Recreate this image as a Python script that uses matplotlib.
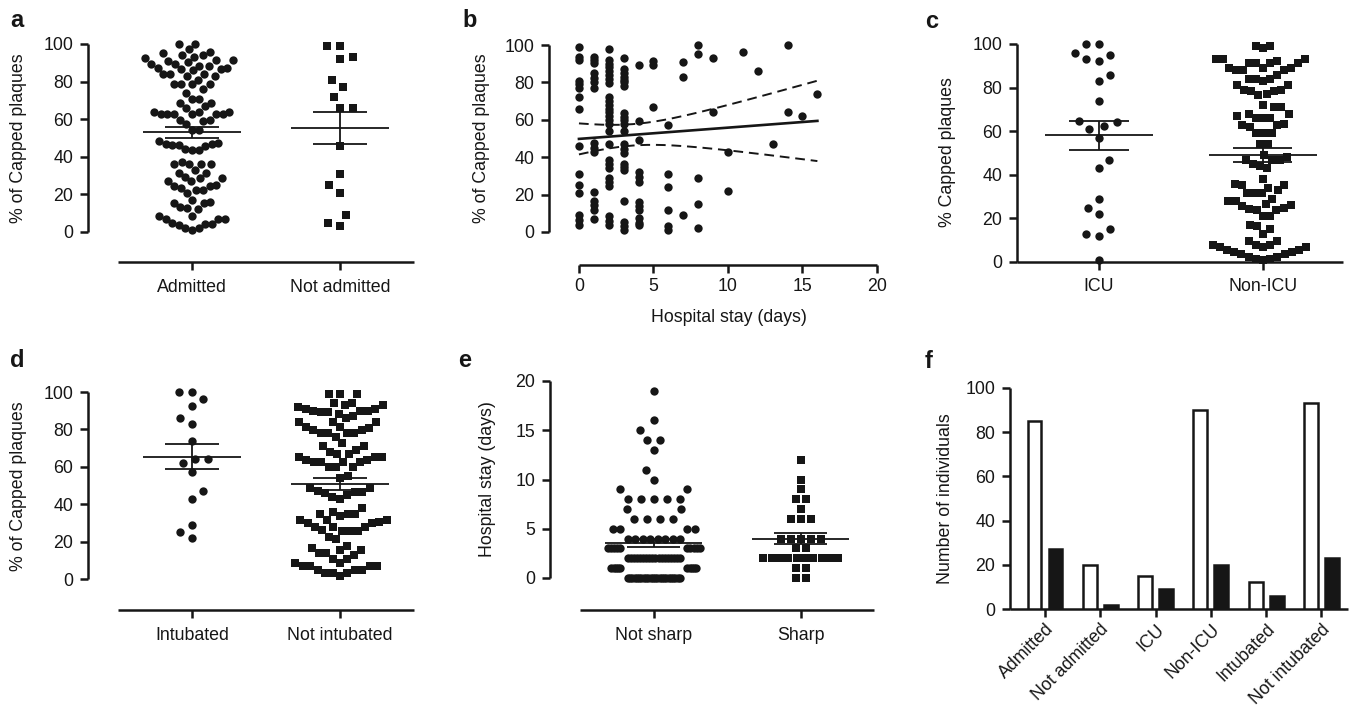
import numpy as np
import matplotlib
matplotlib.use("Agg")
import matplotlib.pyplot as plt

plt.rcParams['font.family'] = ['Liberation Sans', 'DejaVu Sans']

INK = '#161616'
W, H, DPI = 1353, 708, 100
FS = 12.8
LW = 1.8

# ---------------- data ----------------
# panel a: % capped plaques
a_admitted = [100, 100, 97.5, 96, 95, 94, 94,
              92.5, 91.7, 91, 89.5, 88.5, 87.5, 86.5, 86, 86.5, 87.5, 88.5, 89.5, 90.5, 91.5, 93,
              84, 84, 84, 83, 83, 81, 78.5, 78.5, 78.5, 78.5, 76, 74,
              71, 71, 68.5, 68.5,
              67, 64, 63, 63, 63, 63, 63, 63, 64, 64, 66,
              59.5, 59.5, 59, 57.5, 54, 54,
              48.5, 47, 47, 45.5, 43.5, 43.5, 44, 46.5, 46.5, 47.5,
              36, 36, 36, 36, 33, 37.5,
              31.5, 28.5, 28.5, 25, 23.5, 22.5, 22.5, 24.5, 24.5, 27, 27, 29.5, 31.5, 20.5,
              15.5, 13, 12, 17, 13.5, 15.5, 16,
              8.5, 8.5,
              7, 5, 4, 2, 1, 2, 3.5, 4.5, 7, 7]
a_not_admitted = [99, 99, 92, 93, 81, 77, 72, 66, 66, 46, 31, 25, 21, 9, 3, 5]

# panel b: hospital stay (days) vs % capped plaques
b_stay = [0, 1, 2, 3, 4, 5, 6, 7, 8, 9, 10, 11, 12, 13, 14, 15, 16]
b_capped = [
    [99, 93.5, 92, 81, 79, 77, 72, 66, 46, 31, 25, 21, 9, 6.5, 4],
    [93.5, 92, 90.5, 85, 82.5, 80, 77, 47.5, 45, 43, 21.5, 16.5, 14.5, 12, 7],
    [98, 92, 90, 88, 86, 84, 82, 79.5, 72, 70, 68, 66, 64, 62, 60, 58, 54, 47,
     38.5, 36.5, 34, 29, 26.5, 24.5, 8.5, 6, 4],
    [93, 87, 85, 83, 81.5, 80, 78, 63.5, 61.5, 60, 58, 54, 47, 44.5, 42.5,
     36.5, 35, 33, 16.5, 5.5, 3, 1],
    [89.5, 59.5, 49, 32, 29.5, 27, 16, 14, 12, 7.5, 5, 3.5],
    [91.5, 89.5, 67],
    [57, 31, 24, 12, 3, 1],
    [91, 83, 9],
    [100, 95, 29, 15, 2],
    [93, 64],
    [43, 22],
    [96], [86], [47], [100, 64], [62], [74]]
b_t_crit = 1.98

# panel c
c_icu = [100, 100, 96, 95, 93, 92, 86, 83, 74, 64.5, 64, 62.5, 61, 57, 47, 43,
         29, 25, 22, 15, 13, 12, 1]
c_non_icu = [99, 98, 99,
             92, 91.5, 91.5, 93, 93, 93, 89, 88, 88, 86, 88, 89, 89, 91.5, 91.5,
             84, 83, 81, 79, 78.5, 78.5, 79, 81, 84, 84, 76.5, 77,
             71, 71, 72,
             68, 67, 66, 63.5, 63, 62, 63, 66, 66, 68, 59, 59, 59,
             54, 54,
             49, 47, 47, 45, 44, 43, 47, 48,
             38,
             35.5, 34, 31.5, 31.5, 31.5, 33, 35.5, 36,
             29, 28, 25.5, 24.5, 24, 24, 25, 26, 26.5, 28, 21, 21,
             15, 16.5, 17, 13,
             9.5, 9.5,
             8, 7, 7, 5.5, 4.5, 3.5, 2.5, 1.5, 1, 1.5, 2.5, 3.5, 4.5, 5.5, 7, 8, 8]

# panel d
d_intubated = [100, 100, 96, 92.5, 86, 83, 74, 64, 64, 62, 57, 47, 43, 29, 25, 22]
d_not_intubated = [99, 99, 99, 94, 94,
                   92, 91, 91, 89.5, 89.5, 87, 86, 88.5, 90, 90, 90, 93, 93,
                   84, 84, 84, 81.5, 81.5, 80.5, 79.5, 79.5, 78, 78, 78, 78, 76,
                   71, 72.5, 71,
                   69, 67, 67, 65.5, 63.5, 62.5, 62.5, 62.5, 62.5, 63.5, 65.5, 65.5, 68, 60, 60, 60,
                   55, 54,
                   48.5, 47, 46, 44, 43, 45, 46.5, 46.5, 48.5,
                   36, 35, 33.5, 34.5, 35, 38,
                   31.5, 30, 30, 28, 25.5, 25.5, 25.5, 26, 28, 28, 30.5, 31.5, 31.5, 21.5, 22.5,
                   16.5, 15.5, 14, 17.5, 13, 14, 15.5, 10.5, 10.5,
                   8.5, 7, 7, 5, 3, 3, 1.5, 3, 5, 5, 7, 7, 8.5]

# panel e: hospital stay (days), value -> number of patients
e_days_not_sharp = [0, 1, 2, 3, 4, 5, 6, 7, 8, 9, 10, 11, 13, 14, 15, 16, 19]
e_count_not_sharp = [24, 10, 18, 10, 8, 4, 4, 2, 5, 2, 1, 1, 1, 2, 1, 1, 1]
e_days_sharp = [0, 1, 2, 3, 4, 6, 7, 8, 9, 10, 12]
e_count_sharp = [2, 2, 10, 2, 5, 3, 1, 2, 1, 1, 1]

# panel f: number of individuals
f_categories = ['Admitted', 'Not admitted', 'ICU', 'Non-ICU', 'Intubated', 'Not intubated']
f_not_sharp = [85, 20, 15, 90, 12, 93]
f_sharp = [27, 2, 9, 20, 6, 23]

# ---------------- helpers ----------------
fig = plt.figure(figsize=(W / DPI, H / DPI), dpi=DPI)


def make_axes(l, r, t, b, xlim, ylim):
    ax = fig.add_axes([l / W, 1 - b / H, (r - l) / W, (b - t) / H])
    ax.set_xlim(*xlim)
    ax.set_ylim(*ylim)
    for sp in ('top', 'right'):
        ax.spines[sp].set_visible(False)
    for sp in ('left', 'bottom'):
        ax.spines[sp].set_linewidth(LW)
        ax.spines[sp].set_color(INK)
        ax.spines[sp].set_capstyle('butt')
    ax.tick_params(direction='out', length=5.5, width=LW, color=INK,
                   labelsize=FS, labelcolor=INK, pad=5)
    ax.patch.set_alpha(0)
    return ax


def px_per_unit(ax):
    return ax.transData.transform((1, 1)) - ax.transData.transform((0, 0))


def swarm(ypx, D, wmax):
    n = len(ypx)
    order = np.argsort(ypx, kind='stable')
    xs = np.zeros(n)
    px, py = [], []
    toggle = -1
    for i in order:
        yi = ypx[i]
        cons = []
        for xj, yj in zip(px, py):
            dy = abs(yi - yj)
            if dy < D:
                cons.append((xj, np.sqrt(D * D - dy * dy)))
        cands = [0.0] + [xj + sg * sp for xj, sp in cons for sg in (-1, 1)]
        cands.sort(key=lambda c: (round(abs(c), 4), 0 if np.sign(c) == toggle else 1))
        best = 0.0
        for c in cands:
            if all(abs(c - xj) >= sp - 1e-6 for xj, sp in cons):
                best = c
                break
        if best != 0:
            toggle = -int(np.sign(best))
        xs[i] = best
        px.append(best)
        py.append(yi)
    span = np.max(np.abs(xs))
    if span > wmax:
        xs = xs * (wmax / span)
    return xs


def row_layout(days, counts, s_max, w_core, gap):
    """Offsets (px) for integer-valued data laid out in rows."""
    placed, spacing = {}, {}
    vals, offs = [], []
    for v, n in zip(days, counts):
        s = s_max if n == 1 else min(s_max, w_core / (n - 1))
        block = (np.arange(n) - (n - 1) / 2) * s
        prev = placed.get(v - 1)
        if gap > 0 and prev is not None and n <= len(prev) and \
                np.min(np.abs(block[:, None] - prev[None, :])) < gap:
            s2 = min(s, spacing[v - 1])
            B = np.max(np.abs(prev)) + gap
            k = np.arange(n)
            side = np.where(k % 2 == 0, -1, 1)
            block = side * (B + (k // 2) * s2)
        placed[v] = block
        spacing[v] = s
        vals += [v] * n
        offs += list(block)
    return np.array(vals, float), np.array(offs)


def mean_sem(ax, vals, center, lw=1.3):
    vals = np.asarray(vals, float)
    m = vals.mean()
    se = vals.std(ddof=1) / np.sqrt(len(vals))
    ax.hlines(m, center - 0.33, center + 0.33, colors=INK, lw=lw, zorder=4)
    ax.hlines([m - se, m + se], center - 0.18, center + 0.18, colors=INK, lw=lw, zorder=4)
    ax.vlines(center, m - se, m + se, colors=INK, lw=lw, zorder=4)


def dot_group(ax, vals, center, marker, size_pt, D_px=13, wmax=47):
    vals = np.asarray(vals, float)
    ppu = px_per_unit(ax)
    offs = swarm(vals * ppu[1], D_px, wmax)
    x = center + offs / ppu[0]
    ax.scatter(x, vals, s=size_pt ** 2, marker=marker, c=INK, linewidths=0,
               clip_on=False, zorder=3)
    mean_sem(ax, vals, center)


def outward(ax, px):
    ax.spines['bottom'].set_position(('outward', px * 72 / DPI))


def panel_label(x, y, s):
    fig.text(x / W, 1 - y / H, s, fontsize=17, fontweight='bold', color=INK,
             ha='left', va='baseline')


def ylabel(x, y, s):
    fig.text(x / W, 1 - y / H, s, fontsize=FS, color=INK, rotation=90,
             ha='center', va='center')


CIRC = 6.0
SQ = 5.3

# ---------------- panel a ----------------
ax = make_axes(88, 414, 44, 232, (-0.703, 1.5), (0, 100))
outward(ax, 30)
ax.spines['left'].set_bounds(0, 100)
ax.spines['bottom'].set_bounds(-0.5, 1.5)
ax.set_yticks(range(0, 101, 20))
ax.set_xticks([0, 1], ['Admitted', 'Not admitted'])
ax.tick_params(axis='x', pad=6.5)
dot_group(ax, a_admitted, 0, 'o', CIRC)
dot_group(ax, a_not_admitted, 1, 's', SQ)
panel_label(10, 27, 'a')
ylabel(19, 138, '% of Capped plaques')

# ---------------- panel b ----------------
ax = make_axes(549, 877, 45, 232, (-2.01, 20), (0, 100))
outward(ax, 33)
ax.spines['left'].set_bounds(0, 100)
ax.spines['bottom'].set_bounds(0, 20)
ax.set_yticks(range(0, 101, 20))
ax.set_xticks(range(0, 21, 5))
ax.tick_params(axis='x', pad=4)
bx = np.concatenate([[d] * len(v) for d, v in zip(b_stay, b_capped)]).astype(float)
by = np.concatenate(b_capped).astype(float)
ax.scatter(bx, by, s=CIRC ** 2, marker='o', c=INK, linewidths=0, clip_on=False, zorder=3)
slope, icept = np.polyfit(bx, by, 1)
n = len(bx)
xm = bx.mean()
sxx = np.sum((bx - xm) ** 2)
resid_s = np.sqrt(np.sum((by - (icept + slope * bx)) ** 2) / (n - 2))
xg = np.linspace(bx.min(), bx.max(), 200)
yg = icept + slope * xg
hw = b_t_crit * resid_s * np.sqrt(1 / n + (xg - xm) ** 2 / sxx)
ax.plot(xg, yg, color=INK, lw=1.9, zorder=4)
ax.plot(xg, yg + hw, color=INK, lw=1.4, ls=(0, (5, 3)), zorder=4)
ax.plot(xg, yg - hw, color=INK, lw=1.4, ls=(0, (5, 3)), zorder=4)
panel_label(462, 27, 'b')
ylabel(482, 138, '% of Capped plaques')
fig.text(729 / W, 1 - 317 / H, 'Hospital stay (days)', fontsize=FS, color=INK,
         ha='center', va='center')

# ---------------- panel c ----------------
ax = make_axes(1017, 1343, 44, 262, (-0.5, 1.488), (0, 100))
ax.set_yticks(range(0, 101, 20))
ax.set_xticks([0, 1], ['ICU', 'Non-ICU'])
ax.tick_params(axis='x', pad=6)
dot_group(ax, c_icu, 0, 'o', CIRC)
dot_group(ax, c_non_icu, 1, 's', SQ, wmax=50)
panel_label(925, 28, 'c')
ylabel(947, 152, '% Capped plaques')

# ---------------- panel d ----------------
ax = make_axes(88, 414, 392, 579, (-0.703, 1.5), (0, 100))
outward(ax, 31)
ax.spines['left'].set_bounds(0, 100)
ax.spines['bottom'].set_bounds(-0.5, 1.5)
ax.set_yticks(range(0, 101, 20))
ax.set_xticks([0, 1], ['Intubated', 'Not intubated'])
ax.tick_params(axis='x', pad=6.5)
dot_group(ax, d_intubated, 0, 'o', CIRC)
dot_group(ax, d_not_intubated, 1, 's', SQ)
panel_label(10, 367, 'd')
ylabel(19, 486, '% of Capped plaques')

# ---------------- panel e ----------------
ax = make_axes(550, 874, 381, 578, (-0.707, 1.497), (0, 20))
outward(ax, 32)
ax.spines['left'].set_bounds(0, 20)
ax.spines['bottom'].set_bounds(-0.5, 1.5)
ax.set_yticks(range(0, 21, 5))
ax.set_xticks([0, 1], ['Not sharp', 'Sharp'])
ax.tick_params(axis='x', pad=6.5)
ppu = px_per_unit(ax)
ev, eo = row_layout(e_days_not_sharp, e_count_not_sharp, 13, 52, 7.5)
ax.scatter(0 + eo / ppu[0], ev, s=CIRC ** 2, marker='o', c=INK, linewidths=0,
           clip_on=False, zorder=3)
mean_sem(ax, ev, 0)
ev2, eo2 = row_layout(e_days_sharp, e_count_sharp, 10, 75, 0)
ax.scatter(1 + eo2 / ppu[0], ev2, s=SQ ** 2, marker='s', c=INK, linewidths=0,
           clip_on=False, zorder=3)
mean_sem(ax, ev2, 1)
panel_label(458, 367, 'e')
ylabel(487, 479, 'Hospital stay (days)')

# ---------------- panel f ----------------
ax = make_axes(1010, 1348, 388, 609, (-0.633, 5.48), (0, 100))
ax.set_yticks(range(0, 101, 20))
xpos = np.arange(len(f_categories))
ax.bar(xpos - 0.19, f_not_sharp, width=0.25, facecolor='white', edgecolor=INK,
       linewidth=1.8, zorder=3)
ax.bar(xpos + 0.19, f_sharp, width=0.25, facecolor=INK, edgecolor=INK,
       linewidth=1.8, zorder=3)
ax.set_xticks(xpos)
ax.set_xticklabels(f_categories, rotation=45, ha='right', rotation_mode='anchor')
ax.tick_params(axis='x', pad=3)
panel_label(925, 368, 'f')
ylabel(945, 499, 'Number of individuals')

fig.savefig('out.png', dpi=DPI)
